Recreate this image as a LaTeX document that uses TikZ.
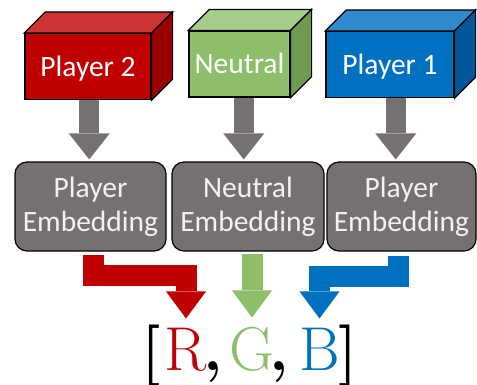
\documentclass[tikz,border=0pt]{standalone}
\usepackage{fontspec}
\newfontfamily\calibri{Carlito}
\usetikzlibrary{arrows.meta,calc}

\definecolor{p2red}{HTML}{C00000}
\definecolor{p2top}{HTML}{CF3434}
\definecolor{p2side}{HTML}{990000}
\definecolor{neugreen}{HTML}{8DBF6B}
\definecolor{neutop}{HTML}{A6CD8B}
\definecolor{neuside}{HTML}{6F9B51}
\definecolor{p1blue}{HTML}{0070C0}
\definecolor{p1top}{HTML}{2F89CC}
\definecolor{p1side}{HTML}{00589A}
\definecolor{embgrey}{HTML}{767171}

\tikzset{
  cube/.style={draw=black, line width=1.2pt, inner sep=0pt, minimum height=66pt,
    text=white, text height=19pt, text depth=0pt,
    font=\calibri\fontsize{29.5}{34}\selectfont},
  embed/.style={draw=black, line width=1.2pt, fill=embgrey, rounded corners=12pt,
    minimum height=89pt, inner sep=0pt, align=center, text=white!95!black,
    font=\calibri\fontsize{29.5}{34}\selectfont},
  downarrow/.style={embgrey, line width=20pt,
    -{Triangle[width=41pt,length=26pt,line width=0pt]}},
  rgbarrow/.style={line width=21pt,
    -{Triangle[width=40pt,length=27pt,line width=0pt]}},
  letter/.style={inner sep=0pt, anchor=base, font=\fontsize{62}{62}\selectfont},
  punct/.style={letter, font=\bfseries\fontsize{62}{62}\selectfont},
}

\begin{document}
\begin{tikzpicture}[x=1pt,y=-1pt]
\useasboundingbox (0,0) rectangle (477,384);

% cubes: front faces
\node[cube, fill=p2red, minimum width=126pt] (p2) at (88,66.5) {Player 2};
\node[cube, fill=neugreen, minimum width=101pt] (neu) at (239.5,64) {Neutral};
\node[cube, fill=p1blue, minimum width=128pt] (p1) at (390,64.5) {Player 1};

% cubes: top and side faces
\foreach \c/\tp/\sd in {p2/p2top/p2side, neu/neutop/neuside, p1/p1top/p1side} {
  \draw[line width=1.2pt, fill=\tp] (\c.north west) -- ++(21,-21)
    -- ($(\c.north east)+(21,-21)$) -- (\c.north east) -- cycle;
  \draw[line width=1.2pt, fill=\sd] (\c.north east) -- ++(21,-21)
    -- ($(\c.south east)+(21,-21)$) -- (\c.south east) -- cycle;
}

% embeddings
\node[embed, minimum width=151pt] (p2emb) at (90.5,206.5) {Player\\Embedding};
\node[embed, minimum width=152pt] (neuemb) at (248,206.5) {Neutral\\Embedding};
\node[embed, minimum width=149pt] (p1emb) at (401.5,206.5) {Player\\Embedding};

\foreach \a/\b in {p2/p2emb, neu/neuemb, p1/p1emb} {
  \coordinate (\a top) at ($(\a.south)!.5!(\a.south -| \b.north)$);
  \draw[downarrow] (\a top) -- ([yshift=2pt]\a top |- \b.north);
}

% output vector
\node[punct] (lb) at (151,371) {[};
\node[letter, text=p2red] (R) at (186,370) {R};
\node[punct] (c1) at (213,370) {,};
\node[letter, text=neugreen] (G) at (252,370) {G};
\node[punct] (c2) at (279,370) {,};
\node[letter, text=p1blue] (B) at (319.5,370) {B};
\node[punct] (rb) at (348,371) {]};

\draw[rgbarrow, p2red] ([xshift=3pt,yshift=-3pt]p2emb.south) -- ++(0,21)
  -| ([yshift=9pt]R.north);
\draw[rgbarrow, neugreen] ([yshift=-2pt]G.north |- neuemb.south)
  -- ([yshift=9pt]G.north);
\draw[rgbarrow, p1blue] ([xshift=-3.5pt,yshift=-4pt]p1emb.south) -- ++(0,21)
  -| ([yshift=9pt]B.north);
\end{tikzpicture}
\end{document}
